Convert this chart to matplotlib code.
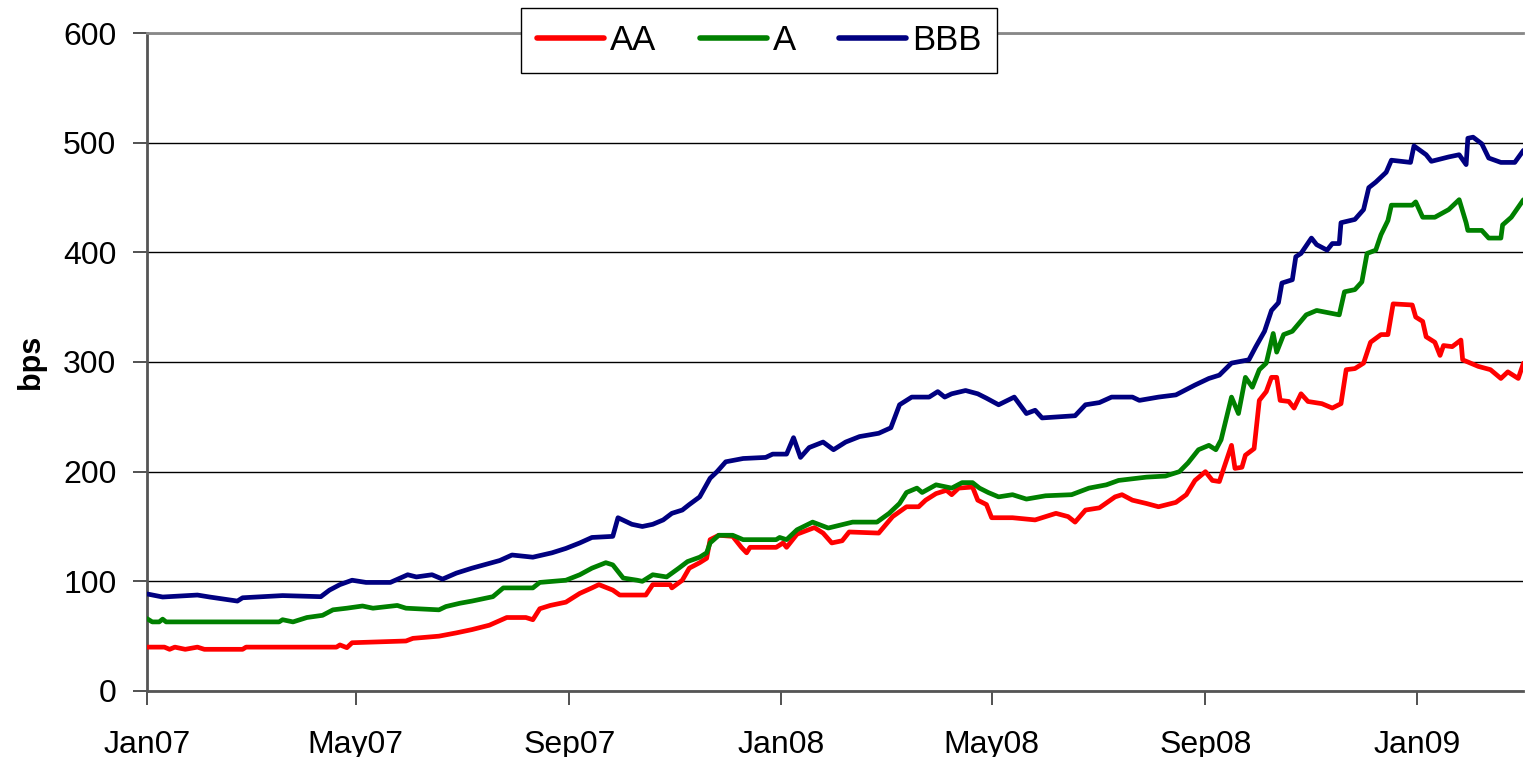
import numpy as np
import pandas as pd
import matplotlib
matplotlib.use("Agg")
import matplotlib.pyplot as plt
import matplotlib.dates as mdates

START = "2007-01-01"
END_DAY = 792

# day offsets from START and spread values (bps)
aa_days = [0, 10, 13, 16, 22, 29, 33, 55, 57, 109, 111, 115, 118, 149, 153, 168, 178, 187, 197, 207,
           218, 222, 226, 232, 241, 249, 256, 260, 268, 272, 287, 291, 301, 302, 308, 312, 318, 322, 324, 329,
           337, 342, 345, 347, 362, 366, 368, 374, 379, 384, 389, 394, 400, 404, 421, 429, 437, 444, 448, 454,
           460, 463, 467, 475, 478, 483, 486, 498, 511, 523, 530, 534, 540, 548, 557, 561, 567, 575, 582, 592,
           598, 603, 609, 613, 617, 624, 626, 630, 632, 637, 640, 644, 647, 650, 652, 657, 660, 664, 668, 676,
           682, 687, 690, 695, 700, 704, 710, 714, 717, 728, 730, 734, 736, 741, 744, 746, 751, 756, 757, 766,
           773, 779, 783, 789, 792]
aa_vals = [40, 40, 38, 40, 38, 40, 38, 38, 40, 40, 42, 39.5, 44, 45.6, 48, 50, 53, 56, 60, 67,
           67, 65, 75, 78, 81, 89, 94, 97, 92, 87.5, 87.5, 97, 97, 94, 101, 112, 117, 121, 138, 142,
           141, 131, 126, 131, 131, 135, 131, 143, 146, 149, 144, 135, 137, 145, 144, 159, 168, 168, 174, 180,
           183, 179, 185, 186, 174, 170, 158, 158, 156, 162, 159, 154, 165, 167, 177, 179, 174, 171, 168, 172,
           179, 192, 200, 192, 191, 224, 203, 204, 215, 221, 265, 273, 286, 286, 265, 264, 258, 271, 264, 262,
           258, 262, 293, 294, 299, 318, 325, 325, 353, 352, 341, 337, 323, 318, 306, 315, 314, 320, 302, 296,
           293, 285, 291, 285, 299]

a_days = [0, 3, 7, 9, 11, 76, 78, 84, 88, 92, 101, 107, 115, 124, 130, 144, 149, 168, 172, 180,
          187, 199, 205, 222, 226, 241, 249, 256, 264, 268, 274, 282, 285, 291, 299, 306, 311, 318, 322, 324,
          329, 337, 343, 362, 364, 368, 374, 383, 392, 406, 420, 427, 433, 437, 443, 446, 454, 463, 469, 475,
          479, 484, 490, 498, 506, 517, 532, 542, 552, 559, 575, 586, 594, 599, 605, 611, 615, 618, 624, 628,
          632, 636, 640, 644, 648, 650, 654, 659, 667, 673, 686, 689, 695, 699, 702, 707, 710, 714, 716, 728,
          730, 734, 741, 749, 755, 759, 760, 768, 772, 779, 780, 785, 792]
a_vals = [66, 63, 63, 65.5, 63, 63, 65, 63, 65, 67, 69, 74, 75.5, 77.5, 75.5, 78, 75.5, 74, 77, 80,
          82, 86, 94, 94, 99, 101, 106, 112, 117, 115, 103, 101, 100, 106, 104, 112, 118, 122, 126, 135,
          142, 142, 138, 138, 140, 138, 147, 154, 148.6, 154, 154, 162, 171, 181, 185, 181, 188, 185, 190, 190,
          185, 181, 177, 179, 175, 178, 179, 185, 188, 192, 195, 196, 200, 208, 220, 224, 220, 229, 268, 253,
          286, 277, 293, 299, 326, 309, 325, 328, 343, 347, 343, 364, 366, 373, 399, 402, 416, 429, 443, 443,
          446, 432, 432, 439, 448, 427, 420, 420, 413, 413, 425, 432, 448]

bbb_days = [0, 9, 29, 36, 52, 55, 78, 100, 105, 111, 118, 126, 140, 150, 155, 164, 170, 178, 187, 203,
            210, 222, 233, 241, 249, 256, 268, 271, 279, 285, 291, 297, 302, 308, 312, 318, 324, 328, 333, 343,
            356, 360, 368, 372, 376, 381, 389, 395, 402, 410, 421, 428, 433, 440, 450, 455, 459, 463, 471, 478,
            483, 490, 499, 506, 511, 515, 534, 540, 548, 555, 567, 571, 582, 592, 603, 611, 617, 624, 634, 638,
            643, 647, 651, 653, 659, 661, 664, 670, 673, 679, 682, 686, 687, 695, 700, 703, 707, 713, 716, 727,
            729, 736, 739, 749, 755, 759, 760, 763, 768, 772, 779, 787, 792]
bbb_vals = [88.5, 85.7, 87.5, 85.7, 82, 85, 87, 86, 92, 97, 101, 99, 99, 106, 104, 106, 102, 107.5, 112, 119,
            124, 122, 126, 130, 135, 140, 141, 158, 152, 150, 152, 156, 162, 165, 170, 177, 194, 200, 209, 212,
            213, 216, 216, 231, 213, 222, 227, 220, 227, 232, 235, 240, 261, 268, 268, 273, 268, 271, 274, 271,
            267, 261, 268, 253, 256, 249, 251, 261, 263, 268, 268, 265, 268, 270, 279, 285, 288, 299, 302, 314,
            328, 347, 354, 372, 375, 396, 399, 413, 407, 402, 408, 408, 427, 430, 439, 459, 464, 473, 484, 482,
            497, 489, 483, 487, 489, 480, 504, 505, 499, 486, 482, 482, 493]

series_names = ["AA", "A", "BBB"]
series_colors = ["#FF0000", "#008000", "#000080"]

tick_dates = ["2007-01-01", "2007-05-01", "2007-09-01", "2008-01-01", "2008-05-01", "2008-09-01", "2009-01-01"]
y_ticks = [0, 100, 200, 300, 400, 500, 600]

plt.rcParams['font.family'] = ['Liberation Sans', 'DejaVu Sans']

fig = plt.figure(figsize=(15.25, 7.57), dpi=100)
ax = fig.add_axes([0.0964, 0.0872, 0.9036 - 0.001, 0.9564 - 0.0872])

start = pd.Timestamp(START)
def to_dates(days):
    return start + pd.to_timedelta(np.asarray(days, dtype=float), unit="D")

lines = []
for days, vals, name, col in zip([aa_days, a_days, bbb_days], [aa_vals, a_vals, bbb_vals],
                                 series_names, series_colors):
    ln, = ax.plot(to_dates(days), vals, color=col, lw=3.4, label=name,
                  solid_joinstyle='round', solid_capstyle='round', zorder=3)
    lines.append(ln)

ax.set_xlim(start, start + pd.Timedelta(days=END_DAY))
ax.set_ylim(0, 600)
ax.set_yticks(y_ticks)
ax.set_xticks(pd.to_datetime(tick_dates))
ax.xaxis.set_major_formatter(mdates.DateFormatter("%b%y"))

ax.grid(axis='y', color='black', lw=1.0, zorder=1)
ax.set_axisbelow(True)

for s in ['left', 'bottom']:
    ax.spines[s].set_color('#555555')
    ax.spines[s].set_linewidth(2.0)
ax.spines['top'].set_color('#888888')
ax.spines['top'].set_linewidth(2.0)
ax.spines['right'].set_visible(False)

ax.tick_params(axis='both', direction='out', length=10, width=1.2, color='#333333',
               labelsize=23, labelcolor='black')
ax.tick_params(axis='y', pad=12)
ax.tick_params(axis='x', pad=18)

ax.set_ylabel("bps", fontsize=22, fontweight='bold', labelpad=12)

leg = fig.legend(handles=lines, loc='center', bbox_to_anchor=(0.498, 0.9465), ncol=3,
                 frameon=True, fancybox=False, edgecolor='black', framealpha=1,
                 fontsize=25, handlelength=1.93, handletextpad=0.18, columnspacing=1.24,
                 borderpad=0.45, borderaxespad=0)
leg.get_frame().set_linewidth(1.0)
for h in leg.get_lines():
    h.set_linewidth(4)

fig.savefig("out.png", dpi=100)
